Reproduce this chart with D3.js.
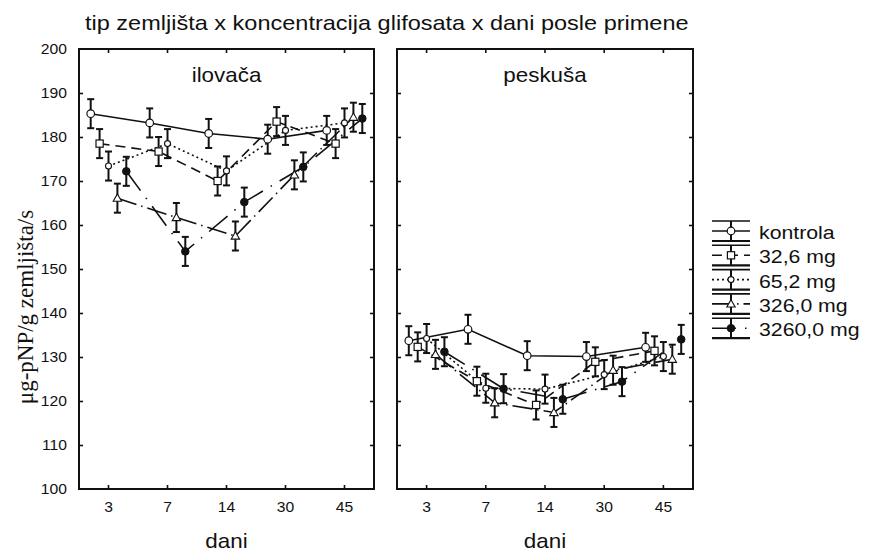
<!DOCTYPE html>
<html>
<head>
<meta charset="utf-8">
<script src="https://cdn.jsdelivr.net/npm/d3@7"></script>
<style>
  body { margin: 0; background: #fff; }
  svg text { font-family: "Liberation Sans", Arial, sans-serif; fill: #111; }
</style>
</head>
<body>
<svg id="chart" width="870" height="551"></svg>
<script>
// days after application (x categories) and glyphosate treatments (series)
const days = ['3', '7', '14', '30', '45'];
const treatments = ['kontrola', '32,6 mg', '65,2 mg', '326,0 mg', '3260,0 mg'];
const yTicks = [100, 110, 120, 130, 140, 150, 160, 170, 180, 190, 200];

// means per treatment, one value per day
const ilovaca = [
  [185.3, 183.2, 180.8, 179.5, 181.5],
  [178.5, 176.7, 170.0, 183.5, 178.5],
  [173.4, 178.5, 172.3, 181.5, 183.2],
  [166.1, 161.7, 157.5, 171.4, 184.5],
  [172.2, 154.0, 165.2, 173.2, 184.2]
];
const peskusa = [
  [133.7, 136.3, 130.3, 130.1, 132.2],
  [132.3, 124.5, 119.1, 128.9, 131.4],
  [134.2, 122.9, 122.7, 126.0, 130.1],
  [130.6, 119.6, 117.4, 127.0, 129.5],
  [131.2, 122.8, 120.4, 124.4, 134.0]
];
// pooled standard error (same for every mean)
const stdErr = 3.3;

const panels = [
  { name: 'ilovača', data: ilovaca, x0: 79, x1: 374 },
  { name: 'peskuša', data: peskusa, x0: 397, x1: 693 }
];

const SX = 1.12; // the source image is slightly stretched horizontally
const dashes = [null, '10,6', '2,3', '20,5,1.5,5', '24,9,1.5,9'];

const svg = d3.select('#chart');
const plotTop = 49, plotBottom = 489;

const y = d3.scaleLinear().domain([100, 200]).range([plotBottom, plotTop]);
const dodge = d3.scalePoint().domain(treatments).range([-17.8, 17.8]);

function stretched(sel, x, yy) {
  return sel.attr('transform', `translate(${x},${yy}) scale(${SX},1)`);
}

function drawMarker(g, i, cx, cy) {
  if (i === 0) {
    g.append('circle').attr('cx', cx).attr('cy', cy).attr('r', 3.8)
      .attr('fill', '#fff').attr('stroke', '#111').attr('stroke-width', 1.2);
  } else if (i === 1) {
    g.append('rect').attr('x', cx - 3.6).attr('y', cy - 3.6).attr('width', 7.2).attr('height', 7.2)
      .attr('fill', '#fff').attr('stroke', '#111').attr('stroke-width', 1.2);
  } else if (i === 2) {
    g.append('circle').attr('cx', cx).attr('cy', cy).attr('r', 3)
      .attr('fill', '#fff').attr('stroke', '#111').attr('stroke-width', 1.1);
  } else if (i === 3) {
    const s = 4.2;
    g.append('path')
      .attr('d', `M${cx},${cy - s}L${cx + s},${cy + s * 0.75}L${cx - s},${cy + s * 0.75}Z`)
      .attr('fill', '#fff').attr('stroke', '#111').attr('stroke-width', 1.1);
  } else {
    g.append('circle').attr('cx', cx).attr('cy', cy).attr('r', 3.8)
      .attr('fill', '#111').attr('stroke', '#111').attr('stroke-width', 1);
  }
}

panels.forEach((p, pi) => {
  const x = d3.scaleBand().domain(days).range([p.x0, p.x1]);
  const g = svg.append('g');
  const px = (d, i) => x(d) + x.bandwidth() / 2 + dodge(treatments[i]);

  // series lines
  const line = d3.line();
  p.data.forEach((vals, i) => {
    g.append('path')
      .attr('d', line(vals.map((v, k) => [px(days[k], i), y(v)])))
      .attr('fill', 'none').attr('stroke', '#111').attr('stroke-width', 1.6)
      .attr('stroke-dasharray', dashes[i]);
  });

  // error bars
  p.data.forEach((vals, i) => {
    vals.forEach((v, k) => {
      const cx = px(days[k], i);
      const eb = g.append('g').attr('stroke', '#111').attr('stroke-width', 2);
      eb.append('line').attr('x1', cx).attr('x2', cx).attr('y1', y(v + stdErr)).attr('y2', y(v - stdErr));
      eb.append('line').attr('x1', cx - 3.5).attr('x2', cx + 3.5).attr('y1', y(v + stdErr)).attr('y2', y(v + stdErr));
      eb.append('line').attr('x1', cx - 3.5).attr('x2', cx + 3.5).attr('y1', y(v - stdErr)).attr('y2', y(v - stdErr));
    });
  });

  // markers
  p.data.forEach((vals, i) => {
    vals.forEach((v, k) => drawMarker(g, i, px(days[k], i), y(v)));
  });

  // inner ticks on all four sides
  const xMid = d => x(d) + x.bandwidth() / 2;
  g.append('g').attr('transform', `translate(0,${plotBottom})`)
    .call(d3.axisTop(x).tickSize(4).tickFormat(''))
    .call(a => a.select('.domain').remove());
  g.append('g').attr('transform', `translate(0,${plotTop})`)
    .call(d3.axisBottom(x).tickSize(4).tickFormat(''))
    .call(a => a.select('.domain').remove());
  g.append('g').attr('transform', `translate(${p.x0},0)`)
    .call(d3.axisRight(y).tickValues(yTicks.slice(1, -1)).tickSize(4).tickFormat(''))
    .call(a => a.select('.domain').remove());
  g.append('g').attr('transform', `translate(${p.x1},0)`)
    .call(d3.axisLeft(y).tickValues(yTicks.slice(1, -1)).tickSize(4).tickFormat(''))
    .call(a => a.select('.domain').remove());
  g.selectAll('.tick line').attr('stroke', '#111').attr('stroke-width', 1.6);

  // x tick labels
  days.forEach(d => {
    stretched(g.append('text'), xMid(d), 512)
      .attr('text-anchor', 'middle').style('font-size', '14px').text(d);
  });

  // frame
  g.append('rect').attr('x', p.x0).attr('y', plotTop)
    .attr('width', p.x1 - p.x0).attr('height', plotBottom - plotTop)
    .attr('fill', 'none').attr('stroke', '#111').attr('stroke-width', 2);

  // panel label
  stretched(g.append('text'), (p.x0 + p.x1) / 2, 82)
    .attr('text-anchor', 'middle').style('font-size', '20px').text(p.name);

  // axis title
  stretched(g.append('text'), (p.x0 + p.x1) / 2, 548)
    .attr('text-anchor', 'middle').style('font-size', '20px').text('dani');
});

// y tick labels (left panel only)
yTicks.forEach(t => {
  stretched(svg.append('text'), 67, y(t) + 5)
    .attr('text-anchor', 'end').style('font-size', '14px').text(t);
});

// y axis title
svg.append('text')
  .attr('transform', 'translate(33,307) rotate(-90)')
  .attr('text-anchor', 'middle')
  .style('font-family', '"Liberation Serif", "Times New Roman", serif')
  .style('font-size', '23px')
  .text('μg-pNP/g zemljišta/s');

// chart title
stretched(svg.append('text'), 85, 30)
  .style('font-size', '21px')
  .text('tip zemljišta x koncentracija glifosata x dani posle primene');

// legend
const legend = svg.append('g');
treatments.forEach((t, i) => {
  const cy = 231 + i * 24.3;
  const lg = legend.append('g').attr('stroke', '#111');
  lg.append('line').attr('x1', 712).attr('x2', 750).attr('y1', cy - 10).attr('y2', cy - 10).attr('stroke-width', 1.6);
  lg.append('line').attr('x1', 712).attr('x2', 750).attr('y1', cy + 10).attr('y2', cy + 10).attr('stroke-width', 2.2);
  lg.append('line').attr('x1', 731).attr('x2', 731).attr('y1', cy - 10).attr('y2', cy + 10).attr('stroke-width', 2);
  lg.append('line').attr('x1', 712).attr('x2', 750).attr('y1', cy).attr('y2', cy)
    .attr('stroke-width', 1.6).attr('stroke-dasharray', dashes[i]);
  drawMarker(legend, i, 731, cy);
  stretched(legend.append('text'), 759, cy + 8)
    .style('font-size', '19px').text(t);
});
</script>
</body>
</html>
